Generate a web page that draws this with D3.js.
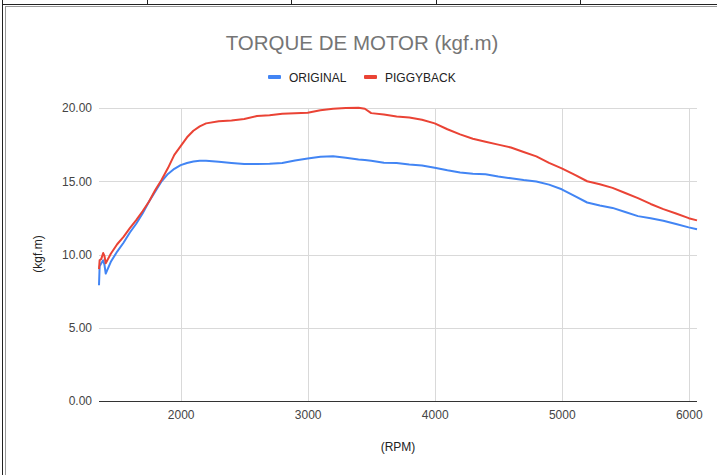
<!DOCTYPE html>
<html>
<head>
<meta charset="utf-8">
<script src="https://cdn.jsdelivr.net/npm/d3@7"></script>
<style>
  body { margin: 0; background: #fff; }
  svg { display: block; font-family: Arial, "Liberation Sans", sans-serif; }
</style>
</head>
<body>
<script>
// data
var rpm = [1357, 1362, 1375, 1390, 1400, 1410, 1450, 1500, 1550, 1600, 1650, 1700, 1750, 1800, 1850, 1900, 1950,
  2000, 2050, 2100, 2150, 2200, 2300, 2400, 2500, 2600, 2700, 2800, 2900, 3000, 3100, 3200, 3300, 3400, 3450,
  3500, 3600, 3700, 3800, 3900, 4000, 4100, 4200, 4300, 4400, 4500, 4600, 4700, 4800, 4900, 5000, 5100, 5200,
  5300, 5400, 5500, 5600, 5700, 5800, 5900, 6000, 6065];

var original = [7.9, 9.2, 9.4, 9.6, 9.3, 8.7, 9.5, 10.2, 10.8, 11.5, 12.1, 12.8, 13.6, 14.3, 15.0, 15.5, 15.85,
  16.1, 16.25, 16.35, 16.4, 16.4, 16.33, 16.25, 16.17, 16.17, 16.2, 16.25, 16.42, 16.55, 16.68, 16.7, 16.6, 16.48, 16.45,
  16.4, 16.27, 16.25, 16.15, 16.08, 15.92, 15.75, 15.6, 15.52, 15.48, 15.33, 15.2, 15.08, 14.98, 14.77, 14.45, 14.0, 13.55,
  13.35, 13.18, 12.9, 12.62, 12.47, 12.3, 12.08, 11.85, 11.72];

var piggyback = [9.0, 9.6, 9.7, 10.1, 9.9, 9.4, 10.05, 10.7, 11.2, 11.8, 12.35, 12.95, 13.6, 14.4, 15.1, 15.9, 16.8,
  17.4, 18.0, 18.45, 18.75, 18.95, 19.1, 19.15, 19.25, 19.45, 19.5, 19.6, 19.65, 19.68, 19.85, 19.95, 20.0, 20.02, 19.95,
  19.65, 19.55, 19.42, 19.35, 19.2, 18.95, 18.55, 18.2, 17.9, 17.7, 17.5, 17.3, 17.0, 16.7, 16.25, 15.88, 15.45, 15.0,
  14.8, 14.55, 14.2, 13.85, 13.45, 13.1, 12.8, 12.48, 12.33];

var seriesNames = ["ORIGINAL", "PIGGYBACK"];
var seriesColors = ["#4285f4", "#ea4335"];
var xTicks = [2000, 3000, 4000, 5000, 6000];
var yTicks = [0, 5, 10, 15, 20];
var sheetCols = [147, 291, 436, 580];

var width = 717, height = 475;
var svg = d3.select("body").append("svg").attr("width", width).attr("height", height);

// spreadsheet frame behind the chart
svg.append("rect").attr("x", 0).attr("y", 0).attr("width", width).attr("height", height).attr("fill", "#fff");
sheetCols.forEach(function(c){
  svg.append("line").attr("x1", c + 0.5).attr("x2", c + 0.5).attr("y1", 0).attr("y2", 4).attr("stroke", "#222");
});
svg.append("line").attr("x1", 2).attr("x2", width).attr("y1", 4.5).attr("y2", 4.5).attr("stroke", "#222");
svg.append("line").attr("x1", 2.5).attr("x2", 2.5).attr("y1", 0).attr("y2", height).attr("stroke", "#222");
svg.append("line").attr("x1", 5).attr("x2", width).attr("y1", 6.5).attr("y2", 6.5).attr("stroke", "#999");
svg.append("line").attr("x1", 5.5).attr("x2", 5.5).attr("y1", 6).attr("y2", height).attr("stroke", "#999");

// scales
var scaleX = d3.scaleLinear().domain([1357, 6065]).range([99, 697]);
var scaleY = d3.scaleLinear().domain([0, 20]).range([401, 108]);

// gridlines
var grid = svg.append("g");
grid.selectAll("line.h").data(yTicks.filter(function(d){ return d > 0; })).enter().append("line")
  .attr("x1", 99).attr("x2", 697)
  .attr("y1", function(d){ return Math.round(scaleY(d)) + 0.5; })
  .attr("y2", function(d){ return Math.round(scaleY(d)) + 0.5; })
  .attr("stroke", "#d9d9d9");
grid.selectAll("line.v").data(xTicks).enter().append("line")
  .attr("y1", 108).attr("y2", 401)
  .attr("x1", function(d){ return Math.round(scaleX(d)) + 0.5; })
  .attr("x2", function(d){ return Math.round(scaleX(d)) + 0.5; })
  .attr("stroke", "#d9d9d9");

// axes via d3
var yAxis = svg.append("g").attr("transform", "translate(99,0)")
  .call(d3.axisLeft(scaleY).tickValues(yTicks).tickSize(0).tickPadding(7).tickFormat(d3.format(".2f")));
yAxis.select(".domain").remove();
yAxis.selectAll("text").attr("font-size", "12px").attr("fill", "#444").attr("font-family", "Arial, 'Liberation Sans', sans-serif");

var xAxis = svg.append("g").attr("transform", "translate(0,401)")
  .call(d3.axisBottom(scaleX).tickValues(xTicks).tickSize(0).tickPadding(9).tickFormat(d3.format("d")));
xAxis.select(".domain").remove();
xAxis.selectAll("text").attr("font-size", "12px").attr("fill", "#444").attr("font-family", "Arial, 'Liberation Sans', sans-serif");

svg.append("line").attr("x1", 99).attr("x2", 697).attr("y1", 401.5).attr("y2", 401.5).attr("stroke", "#333");

// lines
var rows = [original, piggyback];
var line = d3.line()
  .x(function(d){ return scaleX(d[0]); })
  .y(function(d){ return scaleY(d[1]); });
rows.forEach(function(vals, i){
  svg.append("path")
    .datum(rpm.map(function(r, j){ return [r, vals[j]]; }))
    .attr("d", line)
    .attr("fill", "none")
    .attr("stroke", seriesColors[i])
    .attr("stroke-width", 2)
    .attr("stroke-linejoin", "round");
});

// title
svg.append("text").attr("x", 362).attr("y", 50).attr("text-anchor", "middle")
  .attr("font-size", "20.5px").attr("fill", "#757575").text("TORQUE DE MOTOR (kgf.m)");

// legend
var legendX = [268, 364];
seriesNames.forEach(function(name, i){
  svg.append("rect").attr("x", legendX[i]).attr("y", 75).attr("width", 13).attr("height", 4)
    .attr("rx", 1).attr("fill", seriesColors[i]);
  svg.append("text").attr("x", legendX[i] + 21).attr("y", 81.5)
    .attr("font-size", "12px").attr("fill", "#222").text(name);
});

// axis titles
svg.append("text").attr("x", 398).attr("y", 451).attr("text-anchor", "middle")
  .attr("font-size", "12px").attr("fill", "#222").text("(RPM)");
svg.append("text").attr("transform", "translate(42,254) rotate(-90)").attr("text-anchor", "middle")
  .attr("font-size", "12px").attr("fill", "#222").text("(kgf.m)");
</script>
</body>
</html>
